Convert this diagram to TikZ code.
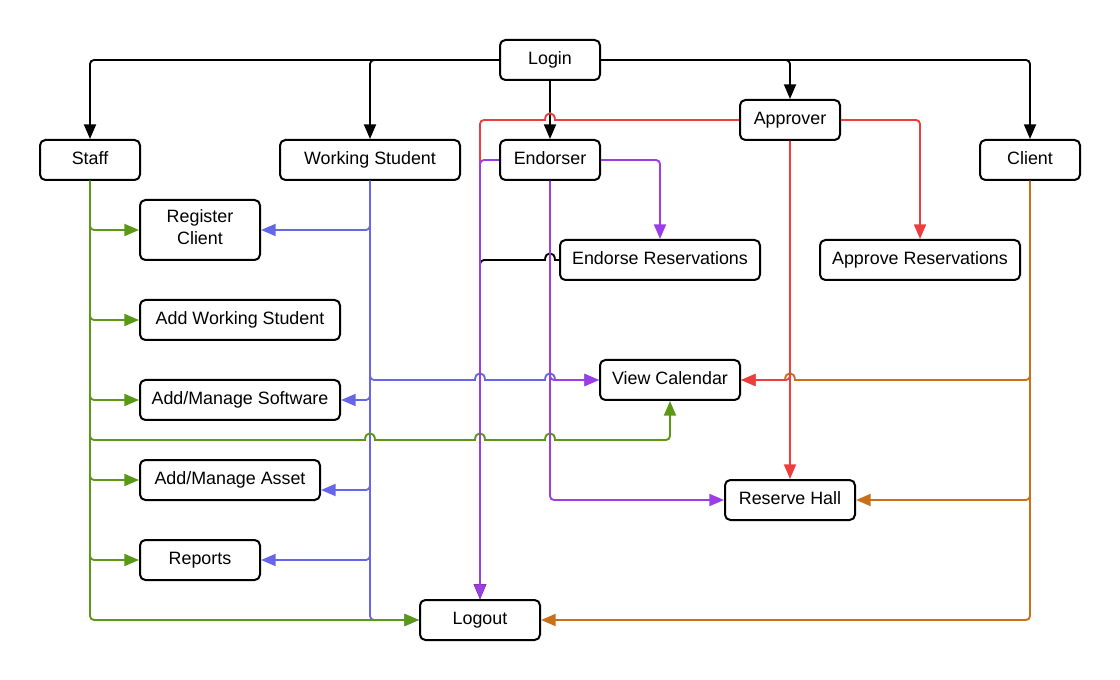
\documentclass[tikz,border=0pt]{standalone}
\usepackage{fontspec}
\setmainfont{Liberation Sans}
\usetikzlibrary{arrows.meta}
\definecolor{cgreen}{RGB}{90,152,22}
\definecolor{cblue}{RGB}{102,102,235}
\definecolor{cpurple}{RGB}{155,62,230}
\definecolor{cred}{RGB}{236,62,62}
\definecolor{corange}{RGB}{200,112,26}
\tikzset{
  box/.style={draw, line width=1.5pt, rounded corners=4pt, minimum height=30pt, inner sep=0pt, fill=white, align=center, font=\fontsize{13.4}{16}\selectfont},
  one/.style={text height=9.6pt, text depth=2.8pt},
  ln/.style={line width=1.4pt},
  con/.style={line width=1.4pt, -{Triangle[length=11pt,width=9pt]}},
  rc/.style={rounded corners=3pt}
}
\begin{document}
\begin{tikzpicture}[x=0.75pt,y=-0.75pt]
\fill[white] (0,0) rectangle (1120,680);
\useasboundingbox (0,0) rectangle (1120,680);
% nodes
\node[box, one, minimum width=75pt] (login) at (550,60) {Login};
\node[box, one, minimum width=75pt] (staff) at (90,160) {Staff};
\node[box, one, minimum width=135pt] (ws) at (370,160) {Working Student};
\node[box, one, minimum width=75pt] (endorser) at (550,160) {Endorser};
\node[box, one, minimum width=75pt] (approver) at (790,120) {Approver};
\node[box, one, minimum width=75pt] (client) at (1030,160) {Client};
\node[box, minimum width=90pt, minimum height=45pt] (regc) at (200,230) {\raisebox{4.5pt}{\shortstack{Register\\[1pt]Client}}};
\node[box, one, minimum width=150pt] (aws) at (240,320) {Add Working Student};
\node[box, one, minimum width=150pt] (ams) at (240,400) {Add/Manage Software};
\node[box, one, minimum width=135pt] (ama) at (230,480) {Add/Manage Asset};
\node[box, one, minimum width=90pt] (reports) at (200,560) {Reports};
\node[box, one, minimum width=90pt] (logout) at (480,620) {Logout};
\node[box, one, minimum width=150pt] (endres) at (660,260) {Endorse Reservations};
\node[box, one, minimum width=150pt] (appres) at (920,260) {Approve Reservations};
\node[box, one, minimum width=105pt] (viewcal) at (670,380) {View Calendar};
\node[box, one, minimum width=97.5pt] (reshall) at (790,500) {Reserve Hall};
\coordinate (amain) at ([yshift=-7.5pt]ama.east);

% orange (Client)
\begin{scope}[corange]
\draw[con,rc] (client.south) |- (logout.east);
\draw[con,rc] (client.south) |- (reshall.east);
\draw[ln,rc] (client.south) -- (1030,380) -- (1020,380);
\draw[con] (1025,380) -- (795,380) .. controls (795,371) and (785,371) .. (785,380) -- (viewcal.east);
\end{scope}

% blue (Working Student)
\begin{scope}[cblue]
\draw[con,rc] (ws.south) |- (regc.east);
\draw[con,rc] (ws.south) |- (ams.east);
\draw[con,rc] (ws.south) |- (amain);
\draw[con,rc] (ws.south) |- (reports.east);
\draw[con,rc] (ws.south) |- (logout.west);
\draw[ln,rc] (ws.south) -- (370,380) -- (380,380);
\draw[con] (375,380) -- (475,380) .. controls (475,371) and (485,371) .. (485,380) -- (545,380) .. controls (545,371) and (555,371) .. (555,380) -- (viewcal.west);
\end{scope}

% green (Staff)
\begin{scope}[cgreen]
\draw[con,rc] (staff.south) |- (regc.west);
\draw[con,rc] (staff.south) |- (aws.west);
\draw[con,rc] (staff.south) |- (ams.west);
\draw[con,rc] (staff.south) |- (ama.west);
\draw[con,rc] (staff.south) |- (reports.west);
\draw[con,rc] (staff.south) |- (logout.west);
\draw[ln,rc] (staff.south) -- (90,440) -- (100,440);
\draw[ln] (95,440) -- (365,440) .. controls (365,431) and (375,431) .. (375,440) -- (475,440) .. controls (475,431) and (485,431) .. (485,440) -- (545,440) .. controls (545,431) and (555,431) .. (555,440) -- (662,440);
\draw[con,rc] (655,440) -- (670,440) -- (viewcal.south);
\end{scope}

% black (Login)
\draw[con,rc] (login.west) -| (staff.north);
\draw[con,rc] (login.west) -| (ws.north);
\draw[con,rc] (login.east) -| (client.north);
\draw[con,rc] (login.east) -| (approver.north);
\draw[con] (login.south) -- (endorser.north);

% red (Approver)
\begin{scope}[cred]
\draw[ln] (approver.west) -- (555,120) .. controls (555,111) and (545,111) .. (545,120) -- (486,120);
\draw[con,rc] (492,120) -- (480,120) -- (logout.north);
\draw[con,rc] (approver.east) -| (appres.north);
\draw[con] (approver.south) -- (reshall.north);
\draw[con,rc] (approver.south) |- (viewcal.east);
\end{scope}

% black (Endorse Reservations)
\draw[ln] (endres.west) -- (555,260) .. controls (555,251) and (545,251) .. (545,260) -- (486,260);
\draw[con,rc] (492,260) -- (480,260) -- (logout.north);

% purple (Endorser)
\begin{scope}[cpurple]
\draw[con,rc] (endorser.west) -| (logout.north);
\draw[con,rc] (endorser.east) -| (endres.north);
\draw[con,rc] (endorser.south) |- (reshall.west);
\draw[con,rc] (endorser.south) |- (viewcal.west);
\end{scope}
\end{tikzpicture}
\end{document}
